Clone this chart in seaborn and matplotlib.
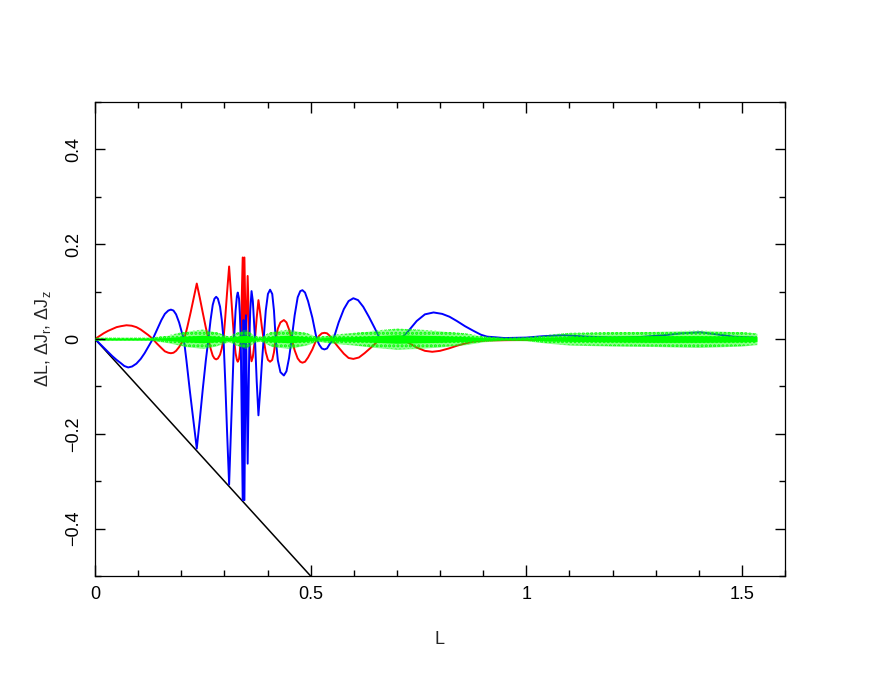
import matplotlib
matplotlib.use('Agg')
import matplotlib.pyplot as plt
import seaborn as sns

# ── Data ──────────────────────────────────────────────────────────────────────
blue_x = [0.000, 0.010, 0.020, 0.030, 0.040, 0.050, 0.060, 0.068, 0.077, 0.086,
          0.096, 0.106, 0.115, 0.124, 0.134, 0.144, 0.154, 0.162, 0.170, 0.176,
          0.182, 0.188, 0.195, 0.201, 0.206, 0.212, 0.220, 0.228, 0.236, 0.243,
          0.250, 0.257, 0.263, 0.268, 0.273, 0.277, 0.281, 0.285, 0.290, 0.294,
          0.298, 0.302, 0.306, 0.311, 0.315, 0.319, 0.3225, 0.326, 0.329, 0.331,
          0.334, 0.336, 0.338, 0.3425, 0.3445, 0.3465, 0.350, 0.354, 0.358, 0.360,
          0.363, 0.366, 0.369, 0.371, 0.375, 0.379, 0.383, 0.387, 0.391, 0.396,
          0.401, 0.406, 0.411, 0.415, 0.419, 0.424, 0.430, 0.438, 0.444, 0.450,
          0.456, 0.463, 0.470, 0.476, 0.481, 0.487, 0.494, 0.504, 0.514, 0.520,
          0.526, 0.532, 0.538, 0.544, 0.553, 0.565, 0.577, 0.588, 0.599, 0.610,
          0.622, 0.635, 0.648, 0.661, 0.680, 0.708, 0.725, 0.746, 0.765, 0.785,
          0.805, 0.822, 0.839, 0.858, 0.878, 0.895, 0.909, 0.950, 1.000, 1.040,
          1.087, 1.140, 1.200, 1.260, 1.320, 1.360, 1.404, 1.440, 1.480, 1.530]
blue_y = [0.000, -0.009, -0.018, -0.027, -0.036, -0.044, -0.051, -0.057, -0.060, -0.058,
          -0.052, -0.042, -0.030, -0.016, 0.000, 0.020, 0.040, 0.053, 0.060, 0.062,
          0.060, 0.052, 0.035, 0.015, 0.000, -0.045, -0.110, -0.170, -0.231, -0.170,
          -0.105, -0.045, 0.000, 0.040, 0.072, 0.085, 0.089, 0.085, 0.068, 0.040,
          0.000, -0.090, -0.190, -0.307, -0.200, -0.090, 0.000, 0.060, 0.090, 0.098,
          0.085, 0.050, 0.000, -0.340, 0.040, -0.340, 0.050, -0.263, 0.000, 0.060,
          0.101, 0.080, 0.030, 0.000, -0.090, -0.161, -0.110, -0.050, 0.000, 0.060,
          0.095, 0.104, 0.095, 0.060, 0.000, -0.045, -0.070, -0.077, -0.068, -0.040,
          0.000, 0.050, 0.088, 0.101, 0.103, 0.098, 0.080, 0.045, 0.000, -0.012,
          -0.020, -0.022, -0.020, -0.011, 0.000, 0.035, 0.063, 0.080, 0.086, 0.082,
          0.068, 0.047, 0.024, 0.000, -0.003, 0.000, 0.015, 0.038, 0.052, 0.056,
          0.053, 0.047, 0.038, 0.027, 0.017, 0.009, 0.005, 0.002, 0.003, 0.006,
          0.008, 0.005, 0.003, 0.004, 0.008, 0.012, 0.014, 0.010, 0.005, 0.003]

red_x = [0.000, 0.010, 0.020, 0.030, 0.040, 0.050, 0.060, 0.073, 0.085, 0.096,
         0.106, 0.115, 0.124, 0.134, 0.144, 0.154, 0.162, 0.170, 0.176, 0.182,
         0.188, 0.195, 0.201, 0.207, 0.214, 0.222, 0.229, 0.236, 0.243, 0.250,
         0.257, 0.263, 0.268, 0.273, 0.277, 0.281, 0.285, 0.290, 0.294, 0.298,
         0.302, 0.306, 0.311, 0.315, 0.319, 0.3225, 0.326, 0.329, 0.331, 0.334,
         0.336, 0.338, 0.3425, 0.3445, 0.3465, 0.350, 0.354, 0.358, 0.360, 0.363,
         0.366, 0.369, 0.371, 0.375, 0.379, 0.383, 0.387, 0.391, 0.396, 0.401,
         0.406, 0.411, 0.415, 0.419, 0.424, 0.430, 0.438, 0.444, 0.450, 0.456,
         0.463, 0.470, 0.476, 0.481, 0.487, 0.494, 0.504, 0.514, 0.520, 0.526,
         0.532, 0.538, 0.544, 0.549, 0.565, 0.577, 0.588, 0.599, 0.612, 0.625,
         0.640, 0.661, 0.680, 0.708, 0.725, 0.746, 0.765, 0.782, 0.800, 0.820,
         0.840, 0.860, 0.880, 0.910, 1.000, 1.100, 1.200, 1.300, 1.400, 1.530]
red_y = [0.000, 0.006, 0.012, 0.017, 0.021, 0.025, 0.027, 0.029, 0.028, 0.025,
         0.020, 0.014, 0.008, 0.000, -0.010, -0.019, -0.026, -0.029, -0.030, -0.029,
         -0.025, -0.017, -0.008, 0.000, 0.025, 0.057, 0.087, 0.117, 0.087, 0.055,
         0.024, 0.000, -0.020, -0.035, -0.041, -0.043, -0.041, -0.033, -0.020, 0.000,
         0.045, 0.095, 0.153, 0.100, 0.045, 0.000, -0.030, -0.044, -0.048, -0.042,
         -0.025, 0.000, 0.172, -0.020, 0.172, -0.025, 0.133, 0.000, -0.030, -0.047,
         -0.038, -0.015, 0.000, 0.045, 0.082, 0.055, 0.025, 0.000, -0.028, -0.044,
         -0.048, -0.044, -0.028, 0.000, 0.022, 0.035, 0.040, 0.035, 0.020, 0.000,
         -0.024, -0.041, -0.048, -0.050, -0.048, -0.039, -0.022, 0.000, 0.007, 0.012,
         0.013, 0.012, 0.007, 0.000, -0.018, -0.031, -0.040, -0.042, -0.039, -0.030,
         -0.018, 0.000, 0.002, 0.000, -0.007, -0.018, -0.025, -0.027, -0.025, -0.020,
         -0.014, -0.009, -0.005, -0.003, -0.002, -0.002, -0.003, -0.002, -0.003, -0.002]

# green scatter band: half-widths of the sparse outer cloud and the dense core
green_x = [0.00, 0.13, 0.17, 0.21, 0.25, 0.28, 0.31, 0.33, 0.35, 0.37, 0.385,
           0.41, 0.45, 0.49, 0.515, 0.55, 0.60, 0.65, 0.70, 0.75, 0.80, 0.86,
           0.90, 0.95, 1.00, 1.05, 1.10, 1.20, 1.30, 1.40, 1.50, 1.535]
green_outer = [0.003, 0.003, 0.008, 0.016, 0.020, 0.015, 0.006, 0.014, 0.020, 0.007, 0.005,
               0.016, 0.020, 0.013, 0.005, 0.009, 0.013, 0.018, 0.022, 0.020, 0.017, 0.012,
               0.006, 0.003, 0.004, 0.009, 0.013, 0.015, 0.016, 0.018, 0.015, 0.012]
green_core = [0.002, 0.002, 0.003, 0.006, 0.008, 0.006, 0.003, 0.006, 0.008, 0.003, 0.002,
              0.006, 0.008, 0.005, 0.002, 0.004, 0.005, 0.007, 0.009, 0.008, 0.007, 0.005,
              0.003, 0.002, 0.002, 0.004, 0.005, 0.006, 0.007, 0.007, 0.006, 0.005]

# black limit line y = -x
limit_x = [0.0, 0.5]
limit_y = [0.0, -0.5]

xticks = [0, 0.5, 1, 1.5]
xticklabels = ['0', '0.5', '1', '1.5']
xminor = [0.1, 0.2, 0.3, 0.4, 0.6, 0.7, 0.8, 0.9, 1.1, 1.2, 1.3, 1.4, 1.6]
yticks = [-0.4, -0.2, 0, 0.2, 0.4]
yticklabels = ['\u22120.4', '\u22120.2', '0', '0.2', '0.4']
yminor = [-0.5, -0.3, -0.1, 0.1, 0.3, 0.5]

# ── Style ─────────────────────────────────────────────────────────────────────
sns.set_theme(style='ticks')
plt.rcParams.update({
    'font.family': ['Liberation Sans', 'DejaVu Sans'],
    'mathtext.default': 'regular',
    'hatch.linewidth': 1.5,
    'axes.edgecolor': 'black',
    'axes.linewidth': 0.9,
})

fig = plt.figure(figsize=(8.8, 6.8), dpi=100)
ax = fig.add_axes([95/880, 104/680, 690/880, 474/680])

sns.lineplot(x=limit_x, y=limit_y, color='black', linewidth=1.1, ax=ax)
sns.lineplot(x=red_x, y=red_y, color='#ff0000', linewidth=1.4, ax=ax,
             estimator=None, sort=False)
sns.lineplot(x=blue_x, y=blue_y, color='#0000ff', linewidth=1.4, ax=ax,
             estimator=None, sort=False)

# green: sparse speckled cloud + dense core
lo = [-v for v in green_outer]
ax.fill_between(green_x, lo, green_outer, color='#00ff00', alpha=0.45,
                linewidth=0, zorder=4)
ax.fill_between(green_x, lo, green_outer, facecolor='none', edgecolor='#00ff00',
                hatch='....', linewidth=0, zorder=4)
ax.fill_between(green_x, [-v for v in green_core], green_core,
                color='#00ff00', linewidth=0, zorder=5)

ax.set_xlim(0, 1.6)
ax.set_ylim(-0.5, 0.5)
ax.set_xticks(xticks, labels=xticklabels)
ax.set_yticks(yticks, labels=yticklabels)

# labels only from the axis; tick marks drawn inward on all four sides below
ax.tick_params(length=0, labelsize=13, colors='black')
ax.tick_params(axis='x', pad=7)
ax.tick_params(axis='y', pad=9, labelrotation=90)
for lab in ax.get_yticklabels():
    lab.set_va('center')

xt = ax.get_xaxis_transform()
yt = ax.get_yaxis_transform()
tick_kw = dict(color='black', linewidth=1.0, zorder=6, clip_on=False)
for xs, h in [(xticks, 0.024), (xminor, 0.012)]:
    ax.vlines(xs, 0, h, transform=xt, **tick_kw)
    ax.vlines(xs, 1 - h, 1, transform=xt, **tick_kw)
for ys, w in [(yticks, 0.014), (yminor, 0.008)]:
    ax.hlines(ys, 0, w, transform=yt, **tick_kw)
    ax.hlines(ys, 1 - w, 1, transform=yt, **tick_kw)

ax.set_xlabel('L', fontsize=13, labelpad=20)
ax.set_ylabel('ΔL, ΔJ$_r$, ΔJ$_z$', fontsize=13, labelpad=9)

plt.savefig('out.png', dpi=100, facecolor='white')
plt.close()
